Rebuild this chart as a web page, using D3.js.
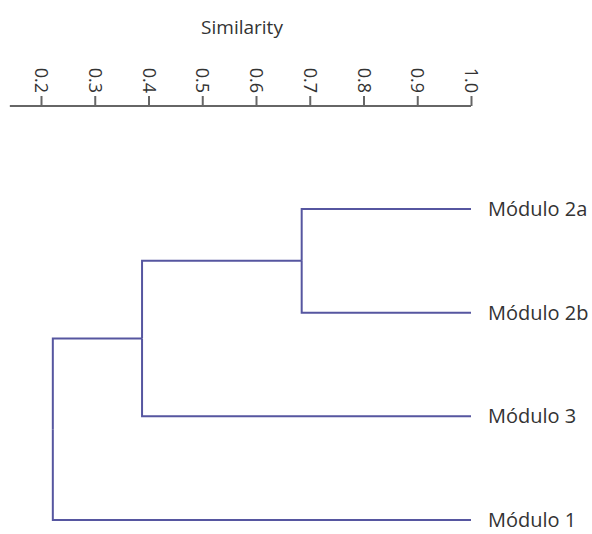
<!DOCTYPE html>
<html>
<head>
<meta charset="utf-8">
<script src="https://cdn.jsdelivr.net/npm/d3@7"></script>
<style>
  body { margin: 0; background: #fff; }
  text { font-family: "Open Sans", sans-serif; fill: #333; }
</style>
</head>
<body>
<svg class="dendro"></svg>
<script>
const size = { w: 592, h: 534 };

// tree structure (ids, parents) and the similarity level of each node
const nodeIds = ["root", "c2", "c1", "Módulo 2a", "Módulo 2b", "Módulo 3", "Módulo 1"];
const parentIds = ["", "root", "c2", "c1", "c1", "c2", "root"];
const similarity = [0.222, 0.388, 0.685, 1.0, 1.0, 1.0, 1.0];

// leaf order top to bottom
const leafOrder = ["Módulo 2a", "Módulo 2b", "Módulo 3", "Módulo 1"];

// axis ticks
const tickValues = [0.2, 0.3, 0.4, 0.5, 0.6, 0.7, 0.8, 0.9, 1.0];
const axisStart = 0.142;

const svg = d3.select("svg.dendro").attr("width", size.w).attr("height", size.h);

const x = d3.scaleLinear().domain([0.2, 1.0]).range([41, 471]);
const y = d3.scalePoint().domain(leafOrder).range([209, 520]);

// axis
const axisG = svg.append("g").attr("transform", "translate(0,106)");
axisG.call(d3.axisTop(x).tickValues(tickValues).tickSize(10).tickSizeOuter(0).tickFormat(d3.format(".1f")));
axisG.select(".domain").remove();
axisG.append("line")
  .attr("x1", x(axisStart)).attr("x2", x(1.0))
  .attr("stroke", "#666").attr("stroke-width", 2);
axisG.selectAll(".tick line").attr("stroke", "#666").attr("stroke-width", 2);
axisG.selectAll(".tick text")
  .attr("fill", "#333")
  .attr("font-size", 18)
  .attr("font-family", "Open Sans, sans-serif")
  .attr("text-anchor", "end")
  .attr("transform", "rotate(90)")
  .attr("x", -13)
  .attr("y", 0)
  .attr("dy", "0.35em");

svg.append("text")
  .attr("x", 242).attr("y", 34)
  .attr("text-anchor", "middle")
  .attr("font-size", 19)
  .text("Similarity");

// build the tree
const rows = nodeIds.map((id, i) => ({ id: id, parent: parentIds[i], sim: similarity[i] }));
const root = d3.stratify().id((d) => d.id).parentId((d) => d.parent || null)(rows);

root.eachAfter((n) => {
  n.px = x(n.data.sim);
  if (n.children) {
    n.py = d3.mean(n.children, (c) => c.py);
  } else {
    n.py = y(n.id);
  }
});

const linkG = svg.append("g");
linkG.selectAll("path")
  .data(root.links())
  .join("path")
  .attr("fill", "none")
  .attr("stroke", "#5656a0")
  .attr("stroke-width", 2)
  .attr("d", (l) => `M${l.source.px},${l.source.py}V${l.target.py}H${l.target.px}`);

svg.append("g")
  .selectAll("text")
  .data(root.leaves())
  .join("text")
  .attr("x", (d) => d.px + 17)
  .attr("y", (d) => d.py)
  .attr("dy", "0.35em")
  .attr("font-size", 20)
  .text((d) => d.id);
</script>
</body>
</html>
